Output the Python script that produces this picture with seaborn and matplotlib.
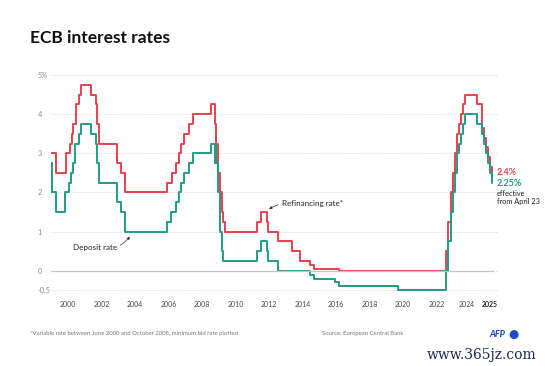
import matplotlib
matplotlib.use("Agg")
import matplotlib.pyplot as plt
import matplotlib.transforms as mtransforms
import seaborn as sns
import pandas as pd

# ECB main refinancing rate (fixed / min bid), change dates
refi_dates = ["1999-01-01", "1999-04-09", "1999-11-10", "2000-02-09", "2000-03-22",
              "2000-04-28", "2000-06-15", "2000-09-06", "2000-10-11", "2001-05-15",
              "2001-09-05", "2001-09-18", "2001-11-14", "2002-12-11", "2003-03-12",
              "2003-06-09", "2005-12-06", "2006-03-15", "2006-06-15", "2006-08-09",
              "2006-10-11", "2006-12-13", "2007-03-14", "2007-06-13", "2008-07-09",
              "2008-10-15", "2008-11-12", "2008-12-10", "2009-01-21", "2009-03-11",
              "2009-04-08", "2009-05-13", "2011-04-13", "2011-07-13", "2011-11-09",
              "2011-12-14", "2012-07-11", "2013-05-08", "2013-11-13", "2014-06-11",
              "2014-09-10", "2016-03-16", "2022-07-27", "2022-09-14", "2022-11-02",
              "2022-12-21", "2023-02-08", "2023-03-22", "2023-05-10", "2023-06-21",
              "2023-08-02", "2023-09-20", "2024-06-12", "2024-09-18", "2024-10-23",
              "2024-12-18", "2025-02-05", "2025-03-12", "2025-04-23"]
refi_rates = [3.00, 2.50, 3.00, 3.25, 3.50,
              3.75, 4.25, 4.50, 4.75, 4.50,
              4.25, 3.75, 3.25, 2.75, 2.50,
              2.00, 2.25, 2.50, 2.75, 3.00,
              3.25, 3.50, 3.75, 4.00, 4.25,
              3.75, 3.25, 2.50, 2.00, 1.50,
              1.25, 1.00, 1.25, 1.50, 1.25,
              1.00, 0.75, 0.50, 0.25, 0.15,
              0.05, 0.00, 0.50, 1.25, 2.00,
              2.50, 3.00, 3.50, 3.75, 4.00,
              4.25, 4.50, 4.25, 3.65, 3.40,
              3.15, 2.90, 2.65, 2.40]

# ECB deposit facility rate, change dates
dep_dates = ["1999-01-01", "1999-01-04", "1999-01-22", "1999-04-09", "1999-11-05",
             "2000-02-04", "2000-03-17", "2000-04-28", "2000-06-09", "2000-09-01",
             "2000-10-06", "2001-05-11", "2001-08-31", "2001-09-18", "2001-11-09",
             "2002-12-06", "2003-03-07", "2003-06-06", "2005-12-06", "2006-03-08",
             "2006-06-15", "2006-08-09", "2006-10-11", "2006-12-13", "2007-03-14",
             "2007-06-13", "2008-07-09", "2008-10-08", "2008-10-09", "2008-11-12",
             "2008-12-10", "2009-01-21", "2009-03-11", "2009-04-08", "2011-04-13",
             "2011-07-13", "2011-11-09", "2011-12-14", "2012-07-11", "2014-06-11",
             "2014-09-10", "2015-12-09", "2016-03-16", "2019-09-18", "2022-07-27",
             "2022-09-14", "2022-11-02", "2022-12-21", "2023-02-08", "2023-03-22",
             "2023-05-10", "2023-06-21", "2023-08-02", "2023-09-20", "2024-06-12",
             "2024-09-18", "2024-10-23", "2024-12-18", "2025-02-05", "2025-03-12",
             "2025-04-23"]
dep_rates = [2.00, 2.75, 2.00, 1.50, 2.00,
             2.25, 2.50, 2.75, 3.25, 3.50,
             3.75, 3.50, 3.25, 2.75, 2.25,
             1.75, 1.50, 1.00, 1.25, 1.50,
             1.75, 2.00, 2.25, 2.50, 2.75,
             3.00, 3.25, 2.75, 3.25, 2.75,
             2.00, 1.00, 0.50, 0.25, 0.50,
             0.75, 0.50, 0.25, 0.00, -0.10,
             -0.20, -0.30, -0.40, -0.50, 0.00,
             0.75, 1.50, 2.00, 2.50, 3.00,
             3.25, 3.50, 3.75, 4.00, 3.75,
             3.50, 3.25, 3.00, 2.75, 2.50,
             2.25]

year_ticks = [2000, 2002, 2004, 2006, 2008, 2010, 2012, 2014, 2016, 2018, 2020, 2022, 2024, 2025]
y_ticks = [-0.5, 0, 1, 2, 3, 4, 5]
y_labels = ["-0.5", "0", "1", "2", "3", "4", "5%"]

RED = "#e8414f"
GREEN = "#1f9d87"
GREY = "#8a8a8a"


def to_year(dates):
    d = pd.to_datetime(pd.Series(dates))
    return d.dt.year + (d.dt.dayofyear - 1) / 365.25


refi = pd.DataFrame({"year": to_year(refi_dates), "rate": refi_rates})
dep = pd.DataFrame({"year": to_year(dep_dates), "rate": dep_rates})

sns.set_style("white")
plt.rcParams["font.family"] = ["Lato", "DejaVu Sans"]

fig = plt.figure(figsize=(5.5, 3.66), dpi=100)
W, H = 550, 366
top_px, bot_px = 71.1, 294.2
ax = fig.add_axes([51 / W, 1 - bot_px / H, 447 / W, (bot_px - top_px) / H])

sns.lineplot(data=refi, x="year", y="rate", ax=ax, color=RED, lw=1.4,
             drawstyle="steps-post", sort=False, estimator=None)
sns.lineplot(data=dep, x="year", y="rate", ax=ax, color=GREEN, lw=1.4,
             drawstyle="steps-post", sort=False, estimator=None)

ax.set_xlim(1998.99, 2025.67)
ax.set_ylim(-0.6, 5.1)
ax.set_xlabel("")
ax.set_ylabel("")

# axes styling
for s in ["top", "right", "left"]:
    ax.spines[s].set_visible(False)
ax.spines["bottom"].set_position(("data", 0))
ax.spines["bottom"].set_color("#c4c4c4")
ax.spines["bottom"].set_linewidth(0.9)
ax.spines["bottom"].set_bounds(1998.99, 2025.35)

ax.set_xticks(year_ticks)
ax.set_xticklabels([str(y) for y in year_ticks])
ax.tick_params(axis="x", direction="out", length=2.5, width=0.7, color="#c4c4c4",
               pad=19, labelsize=5.0, labelcolor="#444444")
xl = ax.get_xticklabels()
xl[-1].set_fontweight("bold")
xl[-1].set_color("#222222")
# nudge the two last labels apart, as in the original
for lab, dx in [(xl[-2], -3), (xl[-1], 3)]:
    lab.set_transform(lab.get_transform() +
                      mtransforms.ScaledTranslation(dx / 100, 0, fig.dpi_scale_trans))

ax.set_yticks(y_ticks)
ax.set_yticklabels(y_labels)
ax.tick_params(axis="y", length=0, pad=9.5, labelsize=5.3, labelcolor=GREY)
for lab in ax.get_yticklabels():
    lab.set_horizontalalignment("left")
ax.yaxis.grid(True, linestyle=(0, (1, 2)), color="#c8c8c8", lw=0.6)
ax.xaxis.grid(False)

# annotations
arrow = dict(arrowstyle="-|>", color="#333333", lw=0.5, mutation_scale=4,
             shrinkA=0, shrinkB=1)
ax.annotate("Deposit rate", xy=(2003.75, 0.9), xytext=(2000.3, 0.6),
            fontsize=5.8, color="#222222", ha="left", va="center",
            arrowprops=dict(connectionstyle="arc3,rad=0.35", **arrow))
ax.annotate("Refinancing rate*", xy=(2011.93, 1.56), xytext=(2012.75, 1.73),
            fontsize=5.8, color="#222222", ha="left", va="center",
            arrowprops=dict(connectionstyle="arc3,rad=0.2", **arrow))

ax.text(2025.6, 2.5, "2.4%", color=RED, fontsize=6.5, fontweight="bold",
        ha="left", va="center", clip_on=False)
ax.text(2025.6, 2.22, "2.25%", color=GREEN, fontsize=6.5, fontweight="bold",
        ha="left", va="center", clip_on=False)
ax.text(2025.6, 2.06, "effective\nfrom April 23", color="#222222", fontsize=5.3,
        ha="left", va="top", linespacing=1.1, clip_on=False)

# title and footer
fig.text(30 / W, 1 - 43 / H, "ECB interest rates", fontsize=12.5, fontweight="bold",
         color="#111111", va="baseline", ha="left")
fig.text(30 / W, 1 - 335 / H,
         "*Variable rate between June 2000 and October 2008, minimum bid rate plotted",
         fontsize=4.3, color="#777777", va="baseline", ha="left")
fig.text(322 / W, 1 - 335 / H, "Source: European Central Bank",
         fontsize=4.3, color="#777777", va="baseline", ha="left")
fig.text(489 / W, 1 - 337 / H, "AFP", fontsize=6.5, fontweight="black", style="italic",
         color="#1d4fc4", va="baseline", ha="left")
fig.text(508 / W, 1 - 337.5 / H, "\u25cf", fontsize=8.5, color="#1d4fc4",
         va="baseline", ha="left", family=["DejaVu Sans"])
fig.text(427 / W, 1 - 359 / H, "www.365jz.com", fontsize=10, color="#1c2b5c",
         va="baseline", ha="left", family=["DejaVu Serif"])

fig.savefig("out.png", dpi=100, facecolor="white")
